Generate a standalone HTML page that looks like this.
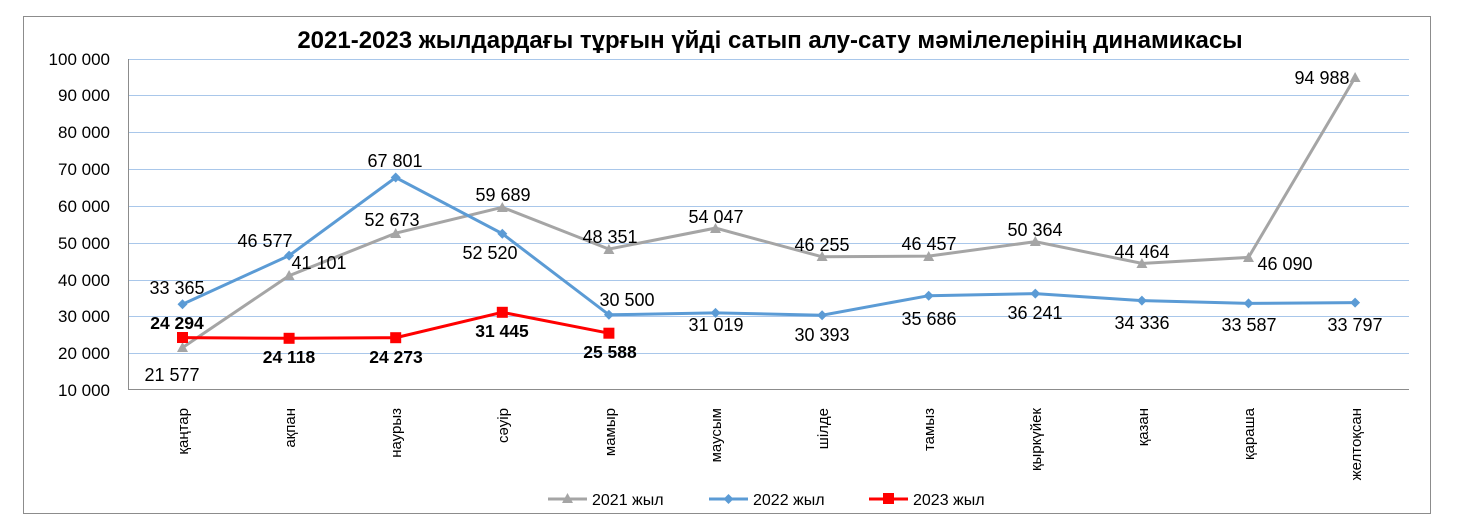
<!DOCTYPE html>
<html><head><meta charset="utf-8"><style>
html,body{margin:0;padding:0;background:#fff;}
svg{display:block;font-family:"Liberation Sans",sans-serif;}
</style></head><body>
<svg width="1458" height="532" viewBox="0 0 1458 532" xmlns="http://www.w3.org/2000/svg">
<rect x="23.5" y="16.5" width="1407" height="497" fill="#fff" stroke="#8c8c8c" stroke-width="1"/>
<text x="770" y="48" text-anchor="middle" font-size="24" font-weight="bold">2021-2023 жылдардағы тұрғын үйді сатып алу-сату мәмілелерінің динамикасы</text>
<g stroke="#a9c7ea" stroke-width="1">
<line x1="128" y1="59.5" x2="1409" y2="59.5"/><line x1="128" y1="95.5" x2="1409" y2="95.5"/>
<line x1="128" y1="132.5" x2="1409" y2="132.5"/><line x1="128" y1="169.5" x2="1409" y2="169.5"/>
<line x1="128" y1="206.5" x2="1409" y2="206.5"/><line x1="128" y1="243.5" x2="1409" y2="243.5"/>
<line x1="128" y1="280.5" x2="1409" y2="280.5"/><line x1="128" y1="316.5" x2="1409" y2="316.5"/>
<line x1="128" y1="353.5" x2="1409" y2="353.5"/>
</g>
<line x1="128.5" y1="59" x2="128.5" y2="390" stroke="#8c8c8c"/>
<line x1="128" y1="389.5" x2="1409" y2="389.5" stroke="#8c8c8c"/>
<g font-size="17" text-anchor="end">
<text x="110" y="65">100 000</text><text x="110" y="101">90 000</text><text x="110" y="138">80 000</text>
<text x="110" y="175">70 000</text><text x="110" y="212">60 000</text><text x="110" y="249">50 000</text>
<text x="110" y="286">40 000</text><text x="110" y="322">30 000</text><text x="110" y="359">20 000</text>
<text x="110" y="396">10 000</text>
</g>
<g font-size="15" text-anchor="end">
<text transform="translate(188,408) rotate(-90)">қаңтар</text>
<text transform="translate(295,408) rotate(-90)">ақпан</text>
<text transform="translate(401,408) rotate(-90)">наурыз</text>
<text transform="translate(508,408) rotate(-90)">сәуір</text>
<text transform="translate(615,408) rotate(-90)">мамыр</text>
<text transform="translate(721,408) rotate(-90)">маусым</text>
<text transform="translate(828,408) rotate(-90)">шілде</text>
<text transform="translate(934,408) rotate(-90)">тамыз</text>
<text transform="translate(1041,408) rotate(-90)">қыркүйек</text>
<text transform="translate(1148,408) rotate(-90)">қазан</text>
<text transform="translate(1254,408) rotate(-90)">қараша</text>
<text transform="translate(1361,408) rotate(-90)">желтоқсан</text>
</g>
<!-- 2021 -->
<polyline fill="none" stroke="#a5a5a5" stroke-width="3" points="182.5,347.6 289.1,275.7 395.7,233.2 502.3,207.3 608.9,249.1 715.5,228.1 822.1,256.8 928.7,256.1 1035.3,241.7 1141.9,263.4 1248.5,257.4 1355.1,77.4"/>
<g fill="#a5a5a5">
<polygon points="182.5,342 177,352 188,352"/><polygon points="289.1,270 283.6,280 294.6,280"/>
<polygon points="395.7,228 390.2,238 401.2,238"/><polygon points="502.3,202 496.8,212 507.8,212"/>
<polygon points="608.9,244 603.4,254 614.4,254"/><polygon points="715.5,223 710,233 721,233"/>
<polygon points="822.1,251 816.6,261 827.6,261"/><polygon points="928.7,251 923.2,261 934.2,261"/>
<polygon points="1035.3,236 1029.8,246 1040.8,246"/><polygon points="1141.9,258 1136.4,268 1147.4,268"/>
<polygon points="1248.5,252 1243,262 1254,262"/><polygon points="1355.1,72 1349.6,82 1360.6,82"/>
</g>
<!-- 2022 -->
<polyline fill="none" stroke="#5b9bd5" stroke-width="3" points="182.5,304.2 289.1,255.6 395.7,177.5 502.3,233.7 608.9,314.8 715.5,312.9 822.1,315.2 928.7,295.7 1035.3,293.6 1141.9,300.6 1248.5,303.4 1355.1,302.6"/>
<g fill="#5b9bd5">
<polygon points="182.5,299.2 187.5,304.2 182.5,309.2 177.5,304.2"/><polygon points="289.1,250.6 294.1,255.6 289.1,260.6 284.1,255.6"/>
<polygon points="395.7,172.5 400.7,177.5 395.7,182.5 390.7,177.5"/><polygon points="502.3,228.7 507.3,233.7 502.3,238.7 497.3,233.7"/>
<polygon points="608.9,309.8 613.9,314.8 608.9,319.8 603.9,314.8"/><polygon points="715.5,307.9 720.5,312.9 715.5,317.9 710.5,312.9"/>
<polygon points="822.1,310.2 827.1,315.2 822.1,320.2 817.1,315.2"/><polygon points="928.7,290.7 933.7,295.7 928.7,300.7 923.7,295.7"/>
<polygon points="1035.3,288.6 1040.3,293.6 1035.3,298.6 1030.3,293.6"/><polygon points="1141.9,295.6 1146.9,300.6 1141.9,305.6 1136.9,300.6"/>
<polygon points="1248.5,298.4 1253.5,303.4 1248.5,308.4 1243.5,303.4"/><polygon points="1355.1,297.6 1360.1,302.6 1355.1,307.6 1350.1,302.6"/>
</g>
<!-- 2023 -->
<polyline fill="none" stroke="#ff0000" stroke-width="3" points="182.5,337.6 289.1,338.3 395.7,337.7 502.3,312.3 608.9,333.2"/>
<g fill="#ff0000">
<rect x="177" y="332" width="11" height="11"/><rect x="283.6" y="332.8" width="11" height="11"/>
<rect x="390.2" y="332.2" width="11" height="11"/><rect x="496.8" y="306.8" width="11" height="11"/>
<rect x="603.4" y="327.7" width="11" height="11"/>
</g>
<g font-size="18" text-anchor="middle">
<text x="172" y="381">21 577</text><text x="319" y="269">41 101</text><text x="392" y="226">52 673</text>
<text x="503" y="201">59 689</text><text x="610" y="243">48 351</text><text x="716" y="223">54 047</text>
<text x="822" y="251">46 255</text><text x="929" y="250">46 457</text><text x="1035" y="236">50 364</text>
<text x="1142" y="258">44 464</text><text x="1285" y="270">46 090</text><text x="1322" y="84">94 988</text>
<text x="177" y="294">33 365</text><text x="265" y="247">46 577</text><text x="395" y="167">67 801</text>
<text x="490" y="259">52 520</text><text x="627" y="306">30 500</text><text x="716" y="331">31 019</text>
<text x="822" y="341">30 393</text><text x="929" y="325">35 686</text><text x="1035" y="319">36 241</text>
<text x="1142" y="329">34 336</text><text x="1249" y="331">33 587</text><text x="1355" y="331">33 797</text>
</g>
<g font-size="17.5" font-weight="bold" text-anchor="middle">
<text x="177" y="329">24 294</text><text x="289" y="363">24 118</text><text x="396" y="363">24 273</text>
<text x="502" y="337">31 445</text><text x="610" y="358">25 588</text>
</g>
<!-- legend -->
<line x1="548" y1="499" x2="587" y2="499" stroke="#a5a5a5" stroke-width="3"/>
<polygon points="567.5,493 562,503 573,503" fill="#a5a5a5"/>
<text x="592" y="505" font-size="16">2021 жыл</text>
<line x1="709" y1="499" x2="748" y2="499" stroke="#5b9bd5" stroke-width="3"/>
<polygon points="728.5,494 733.5,499 728.5,504 723.5,499" fill="#5b9bd5"/>
<text x="753" y="505" font-size="16">2022 жыл</text>
<line x1="869" y1="499" x2="908" y2="499" stroke="#ff0000" stroke-width="3"/>
<rect x="883" y="493" width="11" height="11" fill="#ff0000"/>
<text x="913" y="505" font-size="16">2023 жыл</text>
</svg>
</body></html>
